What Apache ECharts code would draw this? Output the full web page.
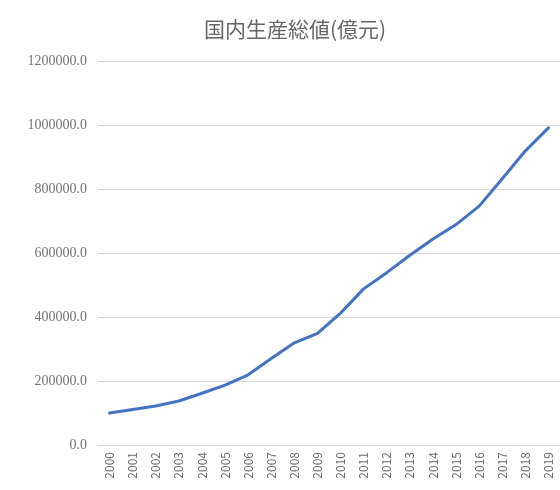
<!DOCTYPE html>
<html><head><meta charset="utf-8">
<script src="https://cdn.jsdelivr.net/npm/echarts@6/dist/echarts.min.js"></script>
<style>html,body{margin:0;padding:0;background:#fff;}#c{width:560px;height:490px;}</style>
</head><body><div id="c"></div>
<script>
const titleText = '国内生産総値(億元)';
const years = ['2000','2001','2002','2003','2004','2005','2006','2007','2008','2009','2010','2011','2012','2013','2014','2015','2016','2017','2018','2019'];
const gdp = [100280, 110863, 121717, 137422, 161840, 187319, 219439, 270092, 319245, 348518, 412119, 487940, 538580, 592963, 643563, 688858, 746395, 832036, 919281, 990865];
const yMin = 0, yMax = 1200000, yStep = 200000;

const chart = echarts.init(document.getElementById('c'), null, {renderer:'canvas'});
chart.setOption({
  animation: false,
  backgroundColor: '#ffffff',
  title: {
    text: titleText, left: 290, top: 14, textAlign: 'center',
    textStyle: {fontFamily: '"Noto Sans CJK JP"', fontSize: 21, fontWeight: 'normal', color: '#666666'}
  },
  grid: {left: 98, right: 0, top: 61, bottom: 45},
  xAxis: {
    type: 'category', data: years, boundaryGap: true,
    axisLine: {show: true, lineStyle: {color: '#d9d9d9', width: 1}},
    axisTick: {show: false},
    axisLabel: {rotate: 90, interval: 0, margin: 7, color: '#6b6b6b', fontSize: 12, fontFamily: '"Noto Sans CJK JP"'}
  },
  yAxis: {
    type: 'value', min: yMin, max: yMax, interval: yStep,
    axisLine: {show: false}, axisTick: {show: false},
    splitLine: {lineStyle: {color: '#d9d9d9', width: 1}},
    axisLabel: {formatter: v => v.toFixed(1), color: '#737373', fontSize: 14, fontFamily: '"Liberation Serif", serif', margin: 11}
  },
  series: [{
    type: 'line', data: gdp, showSymbol: false, smooth: false,
    lineStyle: {color: '#4472C4', width: 3, cap: 'round', join: 'round'}
  }]
});
</script></body></html>
